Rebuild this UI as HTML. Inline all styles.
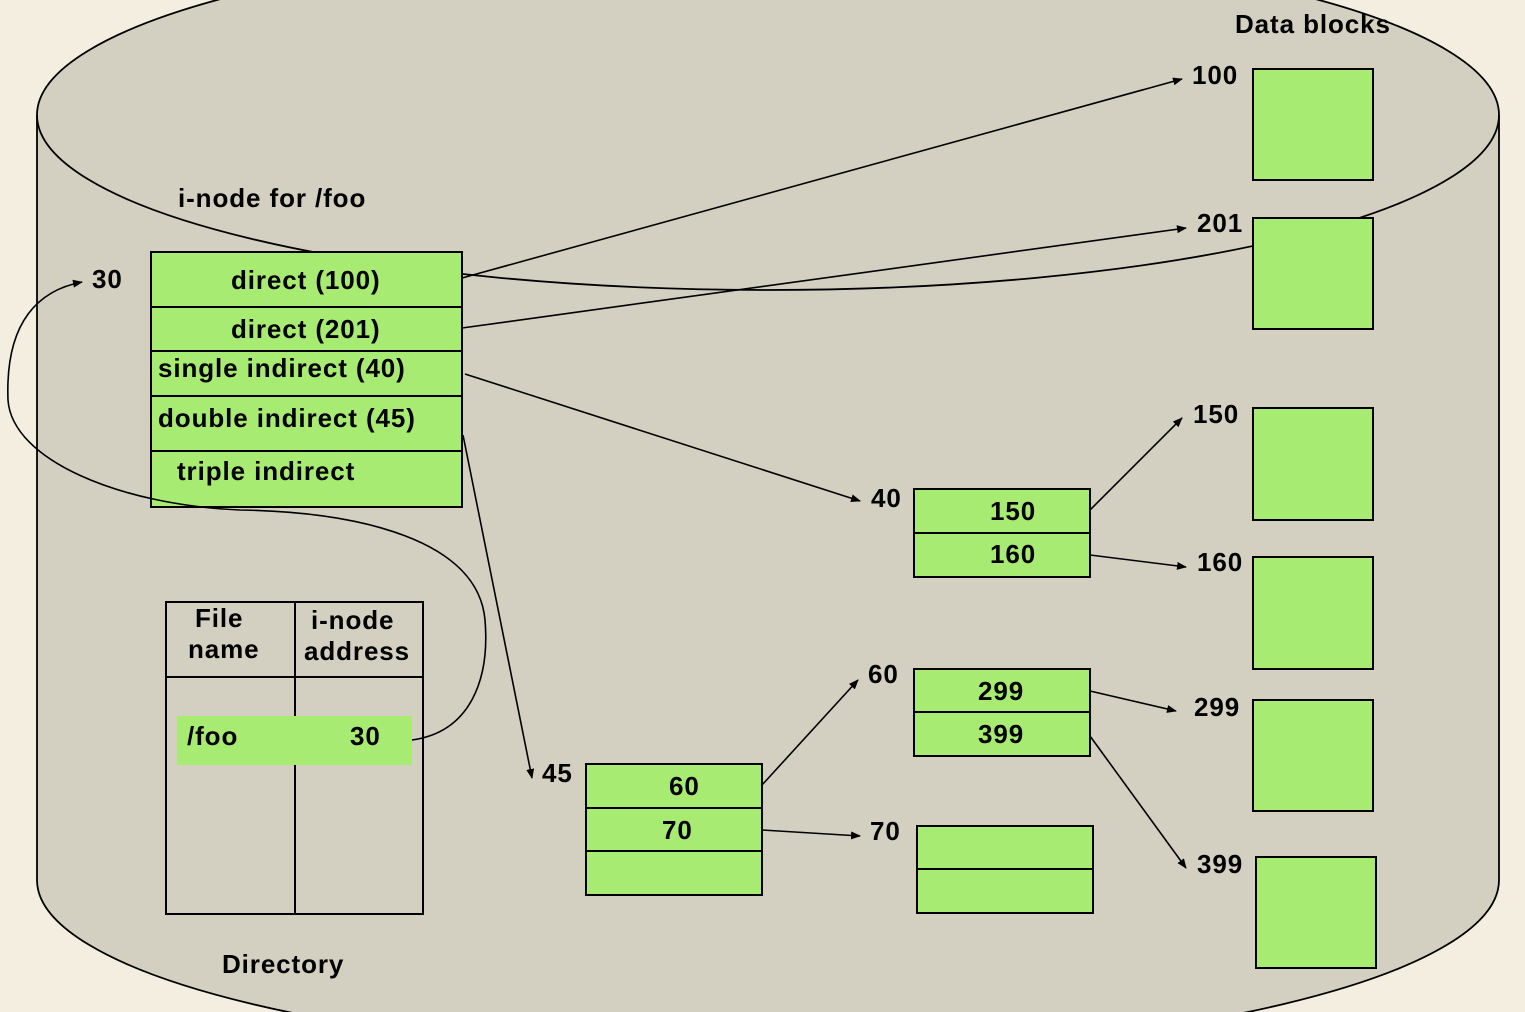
<!DOCTYPE html>
<html><head><meta charset="utf-8"><style>
html,body{margin:0;padding:0;background:#f3eee0;}
svg{display:block}
text{font-family:"Liberation Sans",Arial,sans-serif;font-weight:bold;font-size:26px;letter-spacing:0.9px;fill:#000}
</style></head><body>
<svg width="1525" height="1012" viewBox="0 0 1525 1012" xmlns="http://www.w3.org/2000/svg">
<defs><marker id="a" markerWidth="10" markerHeight="8" refX="9" refY="4" orient="auto" markerUnits="userSpaceOnUse"><path d="M0,0 L10,4 L0,8 z" fill="#000"/></marker></defs>
<rect width="1525" height="1012" fill="#f3eee0"/>
<path d="M37,115 A731,175 0 0 1 1499,115 L1499,880 A731,175 0 0 1 37,880 Z" fill="#d3d0c1" stroke="#000" stroke-width="1.8"/>
<path d="M37,115 A731,175 0 0 0 1499,115" fill="none" stroke="#000" stroke-width="1.8"/>
<g stroke="#000" stroke-width="2" fill="#a8eb72">
<rect x="151" y="252" width="311" height="255"/>
<line x1="151" y1="307" x2="462" y2="307"/><line x1="151" y1="351" x2="462" y2="351"/><line x1="151" y1="396" x2="462" y2="396"/><line x1="151" y1="451" x2="462" y2="451"/>
<rect x="1253" y="69" width="120" height="111"/>
<rect x="1253" y="218" width="120" height="111"/>
<rect x="1253" y="408" width="120" height="112"/>
<rect x="1253" y="557" width="120" height="112"/>
<rect x="1253" y="700" width="120" height="111"/>
<rect x="1256" y="857" width="120" height="111"/>
<rect x="914" y="489" width="176" height="88"/><line x1="914" y1="533" x2="1090" y2="533"/>
<rect x="914" y="669" width="176" height="87"/><line x1="914" y1="712" x2="1090" y2="712"/>
<rect x="586" y="764" width="176" height="131"/><line x1="586" y1="808" x2="762" y2="808"/><line x1="586" y1="851" x2="762" y2="851"/>
<rect x="917" y="826" width="176" height="87"/><line x1="917" y1="869" x2="1093" y2="869"/>
</g>
<g stroke="#000" stroke-width="2" fill="none">
<rect x="166" y="602" width="257" height="312"/>
<line x1="166" y1="677" x2="423" y2="677"/>
<line x1="295" y1="602" x2="295" y2="914"/>
</g>
<rect x="177" y="716" width="235" height="49" fill="#a8eb72"/>
<g stroke="#000" stroke-width="1.6" fill="none" marker-end="url(#a)">
<line x1="462" y1="278" x2="1182" y2="79"/>
<line x1="462" y1="328" x2="1186" y2="228"/>
<line x1="465" y1="374" x2="860" y2="501"/>
<line x1="463" y1="435" x2="532" y2="778"/>
<line x1="762" y1="785" x2="858" y2="680"/>
<line x1="762" y1="830" x2="860" y2="836"/>
<line x1="1090" y1="510" x2="1182" y2="418"/>
<line x1="1090" y1="555" x2="1186" y2="567"/>
<line x1="1090" y1="691" x2="1176" y2="711"/>
<line x1="1090" y1="736" x2="1186" y2="868"/>
<path d="M412,740 C470,732 490,680 485,620 C478,540 360,512 240,510 C120,505 12,460 8,400 C5,320 40,290 82,282"/>
</g>
<text x="92" y="288">30</text>
<text x="178" y="207">i-node for /foo</text>
<text x="1235" y="33">Data blocks</text>
<text x="231" y="289">direct (100)</text>
<text x="231" y="338">direct (201)</text>
<text x="158" y="377">single indirect (40)</text>
<text x="158" y="427">double indirect (45)</text>
<text x="177" y="480">triple indirect</text>
<text x="1192" y="84">100</text>
<text x="1197" y="232">201</text>
<text x="1193" y="423">150</text>
<text x="1197" y="571">160</text>
<text x="1194" y="716">299</text>
<text x="1197" y="873">399</text>
<text x="871" y="507">40</text>
<text x="868" y="683">60</text>
<text x="870" y="840">70</text>
<text x="542" y="782">45</text>
<text x="990" y="520">150</text>
<text x="990" y="563">160</text>
<text x="978" y="700">299</text>
<text x="978" y="743">399</text>
<text x="669" y="795">60</text>
<text x="662" y="839">70</text>
<text x="195" y="627">File</text>
<text x="188" y="658">name</text>
<text x="311" y="629">i-node</text>
<text x="304" y="660">address</text>
<text x="187" y="745">/foo</text>
<text x="350" y="745">30</text>
<text x="222" y="973">Directory</text>
</svg>
</body></html>
